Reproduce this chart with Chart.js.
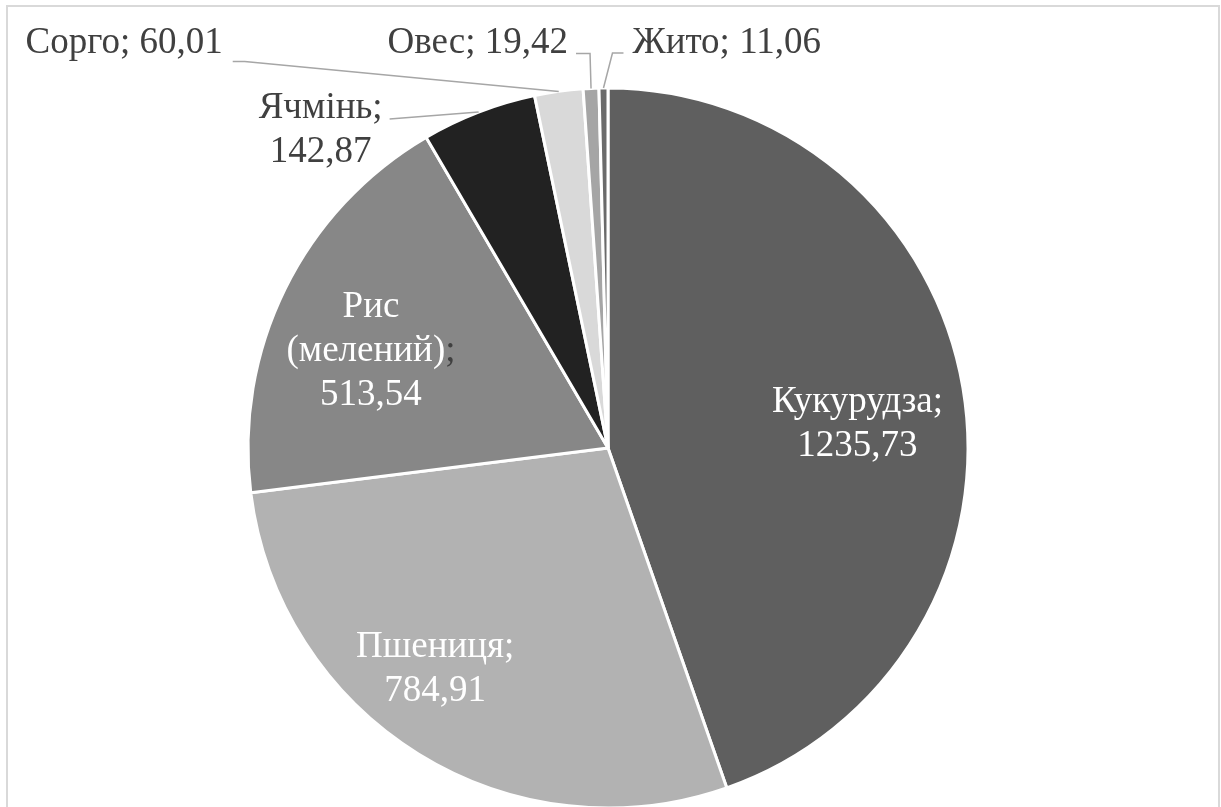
<!DOCTYPE html>
<html>
<head>
<meta charset="utf-8">
<script src="https://cdn.jsdelivr.net/npm/chart.js@4.4.1/dist/chart.umd.min.js"></script>
<style>
  html, body { margin: 0; padding: 0; background: #fff; overflow: hidden; }
  #frame {
    position: absolute; left: 6px; top: 5px; width: 1214px; height: 900px;
    box-sizing: border-box; border: 2px solid #d9d9d9;
  }
  #wrap { position: absolute; left: 0; top: 0; width: 1216px; height: 896px; }
  #probe { position: absolute; left: -9999px; top: 0; font: 37px "Liberation Serif", serif; }
</style>
</head>
<body>
<div id="frame"></div>
<div id="probe">Кукурудза 1235,73</div>
<div id="wrap"><canvas id="grainChart" width="1216" height="896"></canvas></div>
<script>
const crops = ["Кукурудза", "Пшениця", "Рис (мелений)", "Ячмінь", "Сорго", "Овес", "Жито"];
const volumes = [1235.73, 784.91, 513.54, 142.87, 60.01, 19.42, 11.06];
const sliceColors = ["#5f5f5f", "#b2b2b2", "#878787", "#222222", "#d9d9d9", "#a5a5a5", "#6a6a6a"];

// label placement, relative to each slice (inside: from centre, outside: from edge)
const labelLayout = [
  { inside: true, frac: 0.7, dx: 1, dy: 16, wrap: "value" },
  { inside: true, frac: 0.7, dx: -40, dy: 4, wrap: "value" },
  { inside: true, frac: 0.7, dx: -11, dy: 12, wrap: "all", darkSemi: true },
  { inside: false, dx: -89, dy: 7, stub: 0, side: "left", gap: 7, ty: -1, wrap: "value" },
  { inside: false, dx: -326, dy: -30, stub: 12, side: "left", gap: 10, ty: -8 },
  { inside: false, dx: -15, dy: -35, stub: 14, side: "left", gap: 8, ty: 0 },
  { inside: false, dx: 20, dy: -35, stub: -11, side: "right", gap: 9, ty: 0 }
];

const FONT = '37px "Liberation Serif"';
const LINE_H = 44;

const fmt = v => v.toFixed(2).replace(".", ",");

function labelLines(i) {
  const lay = labelLayout[i];
  const val = fmt(volumes[i]);
  if (lay.wrap === "all") {
    const parts = crops[i].split(" ");
    parts[parts.length - 1] += ";";
    return parts.concat([val]);
  }
  if (lay.wrap === "value") return [crops[i] + ";", val];
  return [crops[i] + "; " + val];
}

const pieLabels = {
  id: "pieLabels",
  afterDatasetsDraw(chart) {
    const ctx = chart.ctx;
    const arcs = chart.getDatasetMeta(0).data;
    ctx.save();
    ctx.font = FONT;
    ctx.textBaseline = "alphabetic";
    arcs.forEach((arc, i) => {
      const p = arc.getProps(["x", "y", "startAngle", "endAngle", "outerRadius"], true);
      const mid = (p.startAngle + p.endAngle) / 2;
      const lay = labelLayout[i];
      const lines = labelLines(i);
      if (lay.inside) {
        const cx = p.x + Math.cos(mid) * p.outerRadius * lay.frac + lay.dx;
        const cy = p.y + Math.sin(mid) * p.outerRadius * lay.frac + lay.dy;
        const first = cy + 12.5 - (lines.length - 1) / 2 * LINE_H;
        lines.forEach((t, k) => {
          const by = first + k * LINE_H;
          if (lay.darkSemi && t.endsWith(";")) {
            const w = ctx.measureText(t).width;
            const head = t.slice(0, -1);
            const x0 = cx - w / 2;
            ctx.textAlign = "left";
            ctx.fillStyle = "#ffffff";
            ctx.fillText(head, x0, by);
            ctx.fillStyle = "#404040";
            ctx.fillText(";", x0 + ctx.measureText(head).width, by);
          } else {
            ctx.textAlign = "center";
            ctx.fillStyle = "#ffffff";
            ctx.fillText(t, cx, by);
          }
        });
      } else {
        const ex = p.x + Math.cos(mid) * p.outerRadius;
        const ey = p.y + Math.sin(mid) * p.outerRadius;
        const lx = ex + lay.dx;
        const ly = ey + lay.dy;
        // leader line
        ctx.strokeStyle = "#a6a6a6";
        ctx.lineWidth = 1.5;
        ctx.beginPath();
        ctx.moveTo(lx, ly);
        if (lay.stub) ctx.lineTo(lx + lay.stub, ly);
        ctx.lineTo(ex, ey);
        ctx.stroke();
        // text
        const widths = lines.map(t => ctx.measureText(t).width);
        const maxW = Math.max(...widths);
        const bx = lay.side === "left" ? lx - lay.gap - maxW / 2 : lx + lay.gap + maxW / 2;
        ctx.fillStyle = "#404040";
        ctx.textAlign = "center";
        lines.forEach((t, k) => {
          ctx.fillText(t, bx, ly + lay.ty + k * LINE_H);
        });
      }
    });
    ctx.restore();
  }
};

function drawChart() {
  new Chart(document.getElementById("grainChart"), {
    type: "pie",
    data: {
      labels: crops,
      datasets: [{
        data: volumes,
        backgroundColor: sliceColors,
        borderColor: "#ffffff",
        borderWidth: 3
      }]
    },
    options: {
      responsive: false,
      animation: false,
      radius: 360,
      layout: { padding: 0 },
      plugins: {
        legend: { display: false },
        tooltip: { enabled: false }
      }
    },
    plugins: [pieLabels]
  });
}

document.fonts.load(FONT, "Кукурудза").then(drawChart, drawChart);
</script>
</body>
</html>
